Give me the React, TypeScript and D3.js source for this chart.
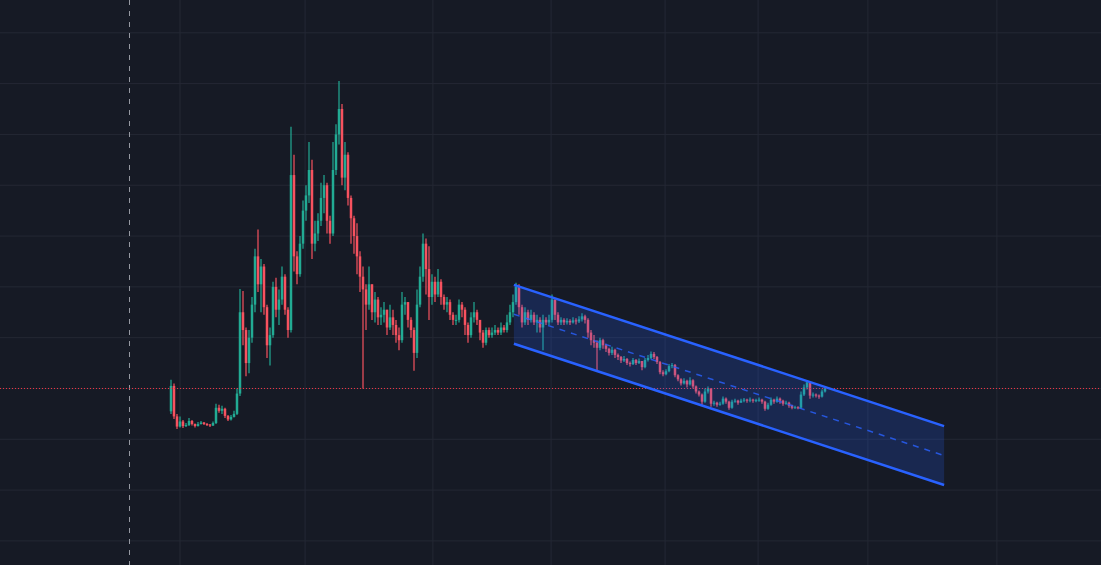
import React from "react";
import * as d3 from "d3";

const W = 1101;
const H = 565;

// Candle closes (open = previous close), highs, lows — price units
const firstOpen = 25.5;
const closes = [
  30.5, 24.5, 22.5, 23.5, 22.6, 22.8, 23.6, 23.0, 22.6, 23.0,
  23.3, 23.0, 22.9, 22.7, 23.2, 26.2, 25.6, 26.0, 24.6, 23.9,
  24.4, 25.0, 29.0, 45.0, 41.5, 35.0, 40.0, 46.5, 56.0, 50.5,
  54.0, 46.0, 38.5, 40.5, 50.0, 45.5, 47.5, 52.0, 45.5, 41.5,
  72.0, 56.0, 52.5, 58.5, 65.0, 68.0, 73.0, 58.5, 60.5, 63.0,
  67.5, 70.0, 63.0, 60.5, 73.0, 80.0, 85.0, 71.5, 76.0, 67.5,
  63.5, 60.0, 56.0, 52.0, 49.5, 46.5, 50.5, 45.0, 47.5, 44.0,
  44.5, 45.5, 42.0, 44.0, 42.5, 40.5, 39.5, 46.5, 47.0, 43.5,
  41.5, 37.0, 46.5, 52.0, 58.5, 53.5, 48.0, 51.0, 48.5, 51.0,
  48.0, 46.5, 47.0, 44.5, 43.5, 43.5, 46.5, 45.5, 42.5, 40.5,
  44.0, 45.0, 43.5, 41.0, 39.0, 41.5, 40.5, 41.0, 41.5, 41.0,
  42.0, 41.5, 43.0, 45.0, 47.0, 50.0, 46.0, 43.0, 45.0, 43.5,
  44.5, 43.0, 43.5, 42.0, 43.5, 43.0, 43.5, 47.5, 44.5, 43.0,
  43.5, 43.0, 43.3, 43.0, 43.4, 43.2, 43.6, 44.2, 43.5, 41.0,
  39.5, 39.0, 38.0, 39.5, 38.5, 37.8, 37.0, 37.6, 36.6, 36.2,
  35.5, 35.8, 35.0, 34.8, 35.6, 35.0, 35.4, 34.2, 35.6, 36.0,
  36.8, 36.2, 35.2, 33.2, 32.8, 33.4, 34.4, 34.6, 32.6, 31.8,
  31.0, 31.5, 30.8, 31.6, 30.4, 29.4, 28.8, 27.4, 29.4, 30.0,
  27.0, 27.2, 26.8, 27.0, 28.0, 27.4, 26.2, 27.4, 27.6, 27.2,
  27.6, 27.8, 27.6, 27.8, 27.6, 27.7, 27.8, 27.4, 26.0, 26.8,
  27.8, 27.4, 28.0, 27.6, 27.0, 27.2, 26.6, 26.2, 26.3, 26.2,
  28.8, 30.2, 31.2, 28.6, 28.8, 28.6, 28.4, 29.4, 30.0,
];
const highs = [
  31.7, 31.0, 25.0, 24.5, 23.8, 23.2, 24.2, 23.8, 23.1, 23.4,
  23.6, 23.4, 23.2, 23.0, 23.5, 27.0, 26.8, 26.6, 26.2, 24.8,
  24.8, 25.6, 30.0, 49.6, 49.2, 42.0, 41.5, 48.0, 57.5, 61.3,
  55.5, 54.5, 46.5, 42.0, 51.0, 51.8, 49.5, 54.0, 52.5, 46.0,
  81.5, 76.0, 57.0, 60.0, 67.0, 70.0, 78.5, 75.0, 63.0, 64.5,
  70.5, 72.0, 70.5, 64.0, 78.5, 82.0, 90.5, 86.0, 78.5, 76.5,
  68.0, 64.0, 62.5, 57.0, 54.0, 50.5, 54.0, 50.5, 49.0, 48.0,
  46.0, 47.0, 45.5, 46.5, 45.5, 43.5, 42.0, 49.0, 48.0, 47.0,
  44.0, 42.0, 49.5, 54.0, 60.5, 59.5, 58.0, 52.5, 52.0, 53.5,
  51.5, 48.5, 48.0, 47.5, 45.0, 44.5, 47.5, 47.0, 46.0, 43.0,
  45.0, 47.0, 45.5, 43.5, 41.5, 42.0, 42.0, 42.0, 42.5, 42.0,
  43.0, 42.5, 44.5, 46.5, 48.5, 50.8, 50.5, 46.5, 46.0, 45.5,
  45.5, 45.0, 44.5, 44.0, 44.5, 44.0, 44.5, 48.5, 47.5, 45.0,
  44.0, 43.8, 43.8, 43.6, 44.0, 43.8, 44.2, 44.8, 44.5, 43.8,
  41.5, 40.5, 39.5, 40.0, 39.8, 38.8, 38.0, 38.2, 37.8, 36.9,
  36.4, 36.4, 36.0, 35.3, 36.0, 35.8, 35.9, 35.4, 36.0, 36.6,
  37.3, 37.2, 36.4, 35.4, 33.6, 33.8, 34.8, 35.0, 34.8, 32.8,
  32.0, 32.0, 31.7, 32.2, 31.8, 30.6, 29.6, 29.0, 30.0, 30.4,
  30.0, 27.6, 27.4, 27.4, 28.4, 28.2, 27.6, 27.8, 28.0, 27.8,
  28.0, 28.1, 28.0, 28.2, 28.0, 28.0, 28.2, 28.0, 27.6, 27.2,
  28.2, 28.0, 28.4, 28.2, 27.8, 27.6, 27.4, 26.8, 26.6, 26.5,
  29.4, 30.8, 31.6, 31.2, 29.2, 29.0, 28.8, 29.8, 30.4,
];
const lows = [
  25.0, 24.0, 22.0, 22.3, 22.2, 22.4, 22.6, 22.7, 22.3, 22.5,
  22.9, 22.8, 22.6, 22.4, 22.6, 23.0, 25.2, 25.0, 24.2, 23.6,
  23.7, 24.3, 24.8, 28.5, 38.5, 32.4, 33.0, 39.0, 45.0, 49.0,
  45.0, 44.5, 36.0, 34.5, 40.0, 44.0, 42.5, 46.5, 44.5, 40.0,
  41.0, 53.0, 50.5, 52.0, 57.5, 63.0, 66.5, 55.5, 57.0, 59.0,
  62.0, 64.5, 60.5, 58.5, 60.0, 72.0, 78.0, 70.0, 69.0, 66.0,
  58.5, 56.5, 52.5, 49.0, 30.0, 41.5, 45.5, 43.5, 43.0, 42.5,
  42.5, 43.0, 40.5, 41.5, 40.5, 39.0, 37.5, 39.0, 44.5, 42.0,
  40.0, 33.5, 36.0, 46.0, 51.0, 48.5, 43.5, 46.5, 47.0, 48.0,
  46.5, 45.5, 45.0, 43.5, 42.5, 42.5, 43.0, 44.0, 40.5, 39.0,
  40.0, 43.0, 42.5, 39.5, 38.0, 38.5, 40.0, 40.0, 40.5, 40.5,
  40.5, 41.0, 41.0, 42.5, 44.0, 46.5, 44.5, 42.0, 42.5, 42.5,
  43.0, 42.5, 41.0, 41.0, 37.5, 42.5, 42.5, 43.0, 43.5, 42.5,
  42.5, 42.5, 42.6, 42.5, 42.8, 42.6, 42.9, 43.2, 42.8, 40.0,
  38.5, 38.0, 33.5, 37.5, 37.8, 37.2, 36.5, 36.6, 36.0, 35.6,
  35.0, 35.2, 34.6, 34.3, 34.6, 34.6, 34.8, 33.6, 34.0, 35.3,
  35.8, 35.8, 34.8, 32.8, 32.4, 32.6, 33.2, 34.0, 32.2, 31.4,
  30.6, 30.8, 30.2, 30.6, 30.0, 29.0, 28.4, 26.8, 27.2, 29.0,
  26.4, 26.6, 26.4, 26.6, 26.8, 27.0, 25.8, 26.0, 27.2, 26.8,
  27.2, 27.3, 27.2, 27.3, 27.2, 27.3, 27.4, 27.0, 25.6, 25.8,
  26.6, 27.0, 27.2, 27.0, 26.6, 26.8, 26.2, 25.9, 26.0, 25.9,
  26.0, 28.5, 29.8, 28.0, 28.2, 28.2, 28.0, 28.2, 29.2,
];

// Axis ticks (no labels shown)
const priceTicks = [0, 10, 20, 30, 40, 50, 60, 70, 80, 90, 100];
const timeTicks = [3, 44.7, 87.3, 126.7, 164.7, 195.7, 232.3, 275.3];
const cursorTime = -13.83;
const lastPriceLine = 30.0;

// Regression channel anchors (time index, price)
const channelTimes = [114.3, 257.7];
const channelUpper = [50.4, 22.6];
const channelLower = [38.8, 11.0];

const BG = "#161a25";
const GRID = "#242834";
const UP = "#22ab94";
const DOWN = "#f7525f";
const BLUE = "#2962ff";

export default function App() {
  const x = d3.scaleLinear().domain([0, closes.length - 1]).range([171, 825]);
  const y = d3.scaleLinear().domain([0, 100]).range([540.9, 32.8]);

  const candles = closes.map((c, i) => {
    const o = i === 0 ? firstOpen : closes[i - 1];
    const hi = Math.max(highs[i], o, c);
    const lo = Math.min(lows[i], o, c);
    return { i, o, c, hi, lo };
  });

  const mid = channelUpper.map((u, k) => (u + channelLower[k]) / 2);
  const area = d3
    .area<number>()
    .x((_, k) => x(channelTimes[k]))
    .y0((_, k) => y(channelLower[k]))
    .y1((_, k) => y(channelUpper[k]));
  const line = (vals: number[]) =>
    d3
      .line<number>()
      .x((_, k) => x(channelTimes[k]))
      .y((v) => y(v))(vals) || "";

  return (
    <div style={{ position: "fixed", left: 0, top: 0, width: W, height: H }}>
      <svg width={W} height={H} style={{ display: "block" }}>
        <rect width={W} height={H} fill={BG} />
        <g>
          {priceTicks.map((p) => (
            <line key={"h" + p} x1={0} x2={W} y1={y(p)} y2={y(p)} stroke={GRID} strokeWidth={1} />
          ))}
          {timeTicks.map((t) => (
            <line key={"v" + t} x1={x(t)} x2={x(t)} y1={0} y2={H} stroke={GRID} strokeWidth={1} />
          ))}
        </g>
        <line
          x1={x(cursorTime)}
          x2={x(cursorTime)}
          y1={0}
          y2={H}
          stroke="#9598a1"
          strokeWidth={1}
          strokeDasharray="5,6"
        />
        <g>
          {candles.map((d) => {
            const col = d.c >= d.o ? UP : DOWN;
            const cx = x(d.i);
            const top = y(Math.max(d.o, d.c));
            const bot = y(Math.min(d.o, d.c));
            return (
              <g key={d.i}>
                <line x1={cx} x2={cx} y1={y(d.hi)} y2={y(d.lo)} stroke={col} strokeWidth={1.2} />
                <rect x={cx - 1.25} y={top} width={2.5} height={Math.max(1, bot - top)} fill={col} />
              </g>
            );
          })}
        </g>
        <line
          x1={0}
          x2={W}
          y1={y(lastPriceLine)}
          y2={y(lastPriceLine)}
          stroke="#f23645"
          strokeWidth={1}
          strokeDasharray="1,2"
        />
        <path d={area(channelUpper) || ""} fill={BLUE} fillOpacity={0.2} />
        <path d={line(mid)} fill="none" stroke={BLUE} strokeWidth={1.5} strokeDasharray="6,6" strokeOpacity={0.8} />
        <path d={line(channelUpper)} fill="none" stroke={BLUE} strokeWidth={2.5} />
        <path d={line(channelLower)} fill="none" stroke={BLUE} strokeWidth={2.5} />
      </svg>
    </div>
  );
}
